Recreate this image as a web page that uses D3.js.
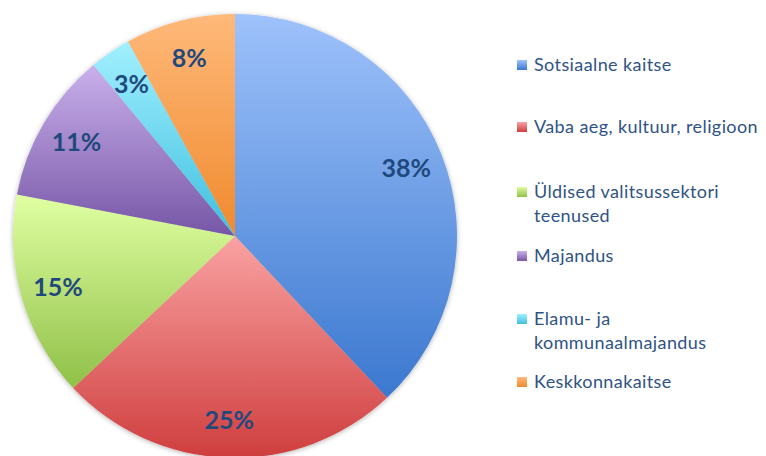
<!DOCTYPE html>
<html>
<head>
<meta charset="utf-8">
<script src="https://cdn.jsdelivr.net/npm/d3@7"></script>
<style>
html,body{margin:0;padding:0;background:#fff;}
svg{display:block;}
</style>
</head>
<body>
<svg id="chart" width="766" height="456"></svg>
<script>
const categories = ["Sotsiaalne kaitse","Vaba aeg, kultuur, religioon","Üldised valitsussektori teenused","Majandus","Elamu- ja kommunaalmajandus","Keskkonnakaitse"];
const legendLines = [["Sotsiaalne kaitse"],["Vaba aeg, kultuur, religioon"],["Üldised valitsussektori","teenused"],["Majandus"],["Elamu- ja","kommunaalmajandus"],["Keskkonnakaitse"]];
const values = [38,25,15,11,3,8];
const labels = ["38%","25%","15%","11%","3%","8%"];
const colorsTop = ["#9ec2fb","#faa2a2","#e0ffa2","#cab0ec","#a2f0ff","#ffb97a"];
const colorsBottom = ["#3b78cf","#cf3e3e","#90c048","#7656a6","#3ebfe0","#f08a2e"];

const svg = d3.select("#chart");
const defs = svg.append("defs");
categories.forEach((c,i)=>{
  const g = defs.append("linearGradient").attr("id","g"+i).attr("x1",0).attr("y1",0).attr("x2",0).attr("y2",1);
  g.append("stop").attr("offset","0%").attr("stop-color",colorsTop[i]);
  g.append("stop").attr("offset","100%").attr("stop-color",colorsBottom[i]);
});
const f = defs.append("filter").attr("id","sh").attr("x","-10%").attr("y","-10%").attr("width","120%").attr("height","120%");
f.append("feDropShadow").attr("dx",0).attr("dy",1).attr("stdDeviation",2.5).attr("flood-color","#000").attr("flood-opacity",0.3);

const cx = 235, cy = 236, r = 222;
const pie = d3.pie().sort(null).value(d=>d);
const arcs = pie(values);
const arc = d3.arc().innerRadius(0).outerRadius(r);
const labelArc = d3.arc().innerRadius(r*0.83).outerRadius(r*0.83);

const g = svg.append("g").attr("transform",`translate(${cx},${cy})`);
g.append("g").attr("filter","url(#sh)").selectAll("path").data(arcs).join("path")
  .attr("d",arc).attr("fill",(d,i)=>`url(#g${i})`);

g.selectAll("text.lbl").data(arcs).join("text").attr("class","lbl")
  .attr("transform",d=>`translate(${labelArc.centroid(d)})`)
  .attr("text-anchor","middle").attr("dy","0.36em")
  .attr("font-family","Lato, 'Open Sans', sans-serif").attr("font-weight","bold")
  .attr("font-size",25).attr("fill","#1f497d")
  .text((d,i)=>labels[i]);

const legY = [71,133,198,262,325,388];
const lg = svg.append("g");
legendLines.forEach((lines,i)=>{
  lg.append("rect").attr("x",517).attr("y",legY[i]-11).attr("width",10).attr("height",10).attr("fill",`url(#g${i})`);
  const t = lg.append("text").attr("x",534).attr("y",legY[i])
    .attr("font-family","Lato, 'Open Sans', sans-serif").attr("font-size",18).attr("letter-spacing",0.4).attr("fill","#2f5384");
  lines.forEach((l,j)=>t.append("tspan").attr("x",534).attr("dy",j===0?0:24).text(l));
});
</script>
</body>
</html>
